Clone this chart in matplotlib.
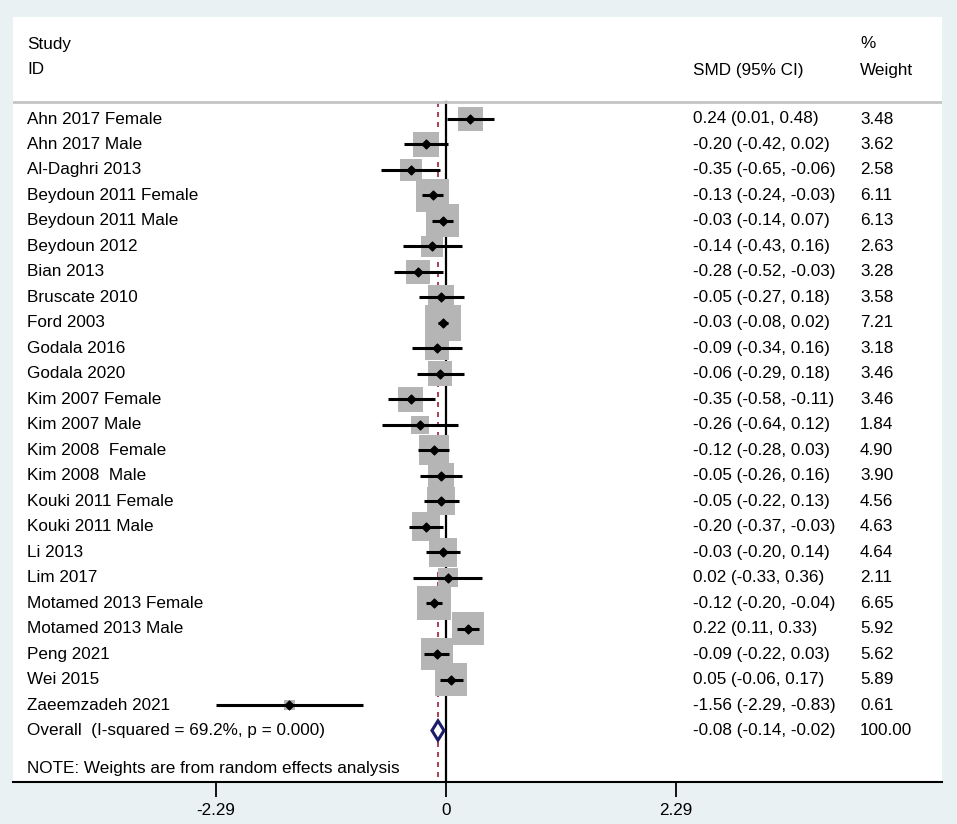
import numpy as np
import matplotlib.pyplot as plt

plt.rcParams['font.family'] = ['Liberation Sans', 'DejaVu Sans']

studies = ["Ahn 2017 Female", "Ahn 2017 Male", "Al-Daghri 2013", "Beydoun 2011 Female",
           "Beydoun 2011 Male", "Beydoun 2012", "Bian 2013", "Bruscate 2010", "Ford 2003",
           "Godala 2016", "Godala 2020", "Kim 2007 Female", "Kim 2007 Male", "Kim 2008  Female",
           "Kim 2008  Male", "Kouki 2011 Female", "Kouki 2011 Male", "Li 2013", "Lim 2017",
           "Motamed 2013 Female", "Motamed 2013 Male", "Peng 2021", "Wei 2015", "Zaeemzadeh 2021"]
smd = [0.24, -0.20, -0.35, -0.13, -0.03, -0.14, -0.28, -0.05, -0.03, -0.09, -0.06, -0.35,
       -0.26, -0.12, -0.05, -0.05, -0.20, -0.03, 0.02, -0.12, 0.22, -0.09, 0.05, -1.56]
lo = [0.01, -0.42, -0.65, -0.24, -0.14, -0.43, -0.52, -0.27, -0.08, -0.34, -0.29, -0.58,
      -0.64, -0.28, -0.26, -0.22, -0.37, -0.20, -0.33, -0.20, 0.11, -0.22, -0.06, -2.29]
hi = [0.48, 0.02, -0.06, -0.03, 0.07, 0.16, -0.03, 0.18, 0.02, 0.16, 0.18, -0.11,
      0.12, 0.03, 0.16, 0.13, -0.03, 0.14, 0.36, -0.04, 0.33, 0.03, 0.17, -0.83]
weight = [3.48, 3.62, 2.58, 6.11, 6.13, 2.63, 3.28, 3.58, 7.21, 3.18, 3.46, 3.46,
          1.84, 4.90, 3.90, 4.56, 4.63, 4.64, 2.11, 6.65, 5.92, 5.62, 5.89, 0.61]
overall = (-0.08, -0.14, -0.02)
overall_label = "Overall  (I-squared = 69.2%, p = 0.000)"
xticks = [-2.29, 0, 2.29]

fig = plt.figure(figsize=(9.57, 8.24), dpi=100, facecolor='#e9f1f3')
# white plot panel: px 13..942 horizontally, 17..782 vertically
ax = fig.add_axes([13/957, 1 - 782/824, 929/957, 765/824])
ax.set_facecolor('white')

ppu = 100.4  # px per unit on x
row = 25.48  # px per row
ax.set_xlim((13 - 446) / ppu, (942 - 446) / ppu)
ax.set_ylim((782 - 119) / row, (17 - 119) / row)

n = len(studies)
y = np.arange(n)
ytop = -0.67
ybot = ax.get_ylim()[0]

# reference lines
ax.plot([0, 0], [ytop, ybot], color='black', lw=1.6, zorder=1)
ax.plot([overall[0]] * 2, [ytop, ybot], color='#9e1f35', lw=1.2,
        dashes=(3, 3), zorder=1)
ax.axhline(ytop, color='#c4c4c4', lw=2, zorder=1)

# weight boxes, CI lines, point estimates
ax.scatter(smd, y, s=np.array(weight) * 92, marker='s', color='#b5b5b5',
           edgecolors='none', zorder=2)
ax.hlines(y, lo, hi, color='black', lw=2.2, zorder=3)
ax.scatter(smd, y, s=20, marker='D', color='black', zorder=4)

# overall diamond
yo = n
dh = 0.38
ax.fill([overall[1], overall[0], overall[2], overall[0], overall[1]],
        [yo, yo - dh, yo, yo + dh, yo], facecolor='white', edgecolor='#1c1c6b',
        lw=2.2, zorder=4)

# text columns
fs = 12.3
x_lab = (27 - 446) / ppu
x_smd = (693 - 446) / ppu
x_w = (860 - 446) / ppu
ax.text(x_lab, (44 - 119) / row, "Study", fontsize=fs, va='center')
ax.text(x_lab, (70 - 119) / row, "ID", fontsize=fs, va='center')
ax.text(x_smd, (70 - 119) / row, "SMD (95% CI)", fontsize=fs, va='center')
ax.text(x_w, (44 - 119) / row, "%", fontsize=fs, va='center')
ax.text(x_w, (70 - 119) / row, "Weight", fontsize=fs, va='center')
for i in range(n):
    ax.text(x_lab, i, studies[i], fontsize=fs, va='center')
    ax.text(x_smd, i, f"{smd[i]:.2f} ({lo[i]:.2f}, {hi[i]:.2f})", fontsize=fs, va='center')
    ax.text(x_w, i, f"{weight[i]:.2f}", fontsize=fs, va='center')
ax.text(x_lab, yo, overall_label, fontsize=fs, va='center')
ax.text(x_smd, yo, f"{overall[0]:.2f} ({overall[1]:.2f}, {overall[2]:.2f})",
        fontsize=fs, va='center')
ax.text(x_w, yo, "100.00", fontsize=fs, va='center')
ax.text(x_lab, (768 - 119) / row, "NOTE: Weights are from random effects analysis",
        fontsize=fs, va='center')

for s in ['top', 'left', 'right']:
    ax.spines[s].set_visible(False)
ax.spines['bottom'].set_linewidth(1.5)
ax.set_yticks([])
ax.set_xticks(xticks)
ax.set_xticklabels(["-2.29", "0", "2.29"], fontsize=fs)
ax.tick_params(axis='x', direction='out', length=11, width=1.3, pad=4)

fig.savefig("out.png", dpi=100, facecolor=fig.get_facecolor())
